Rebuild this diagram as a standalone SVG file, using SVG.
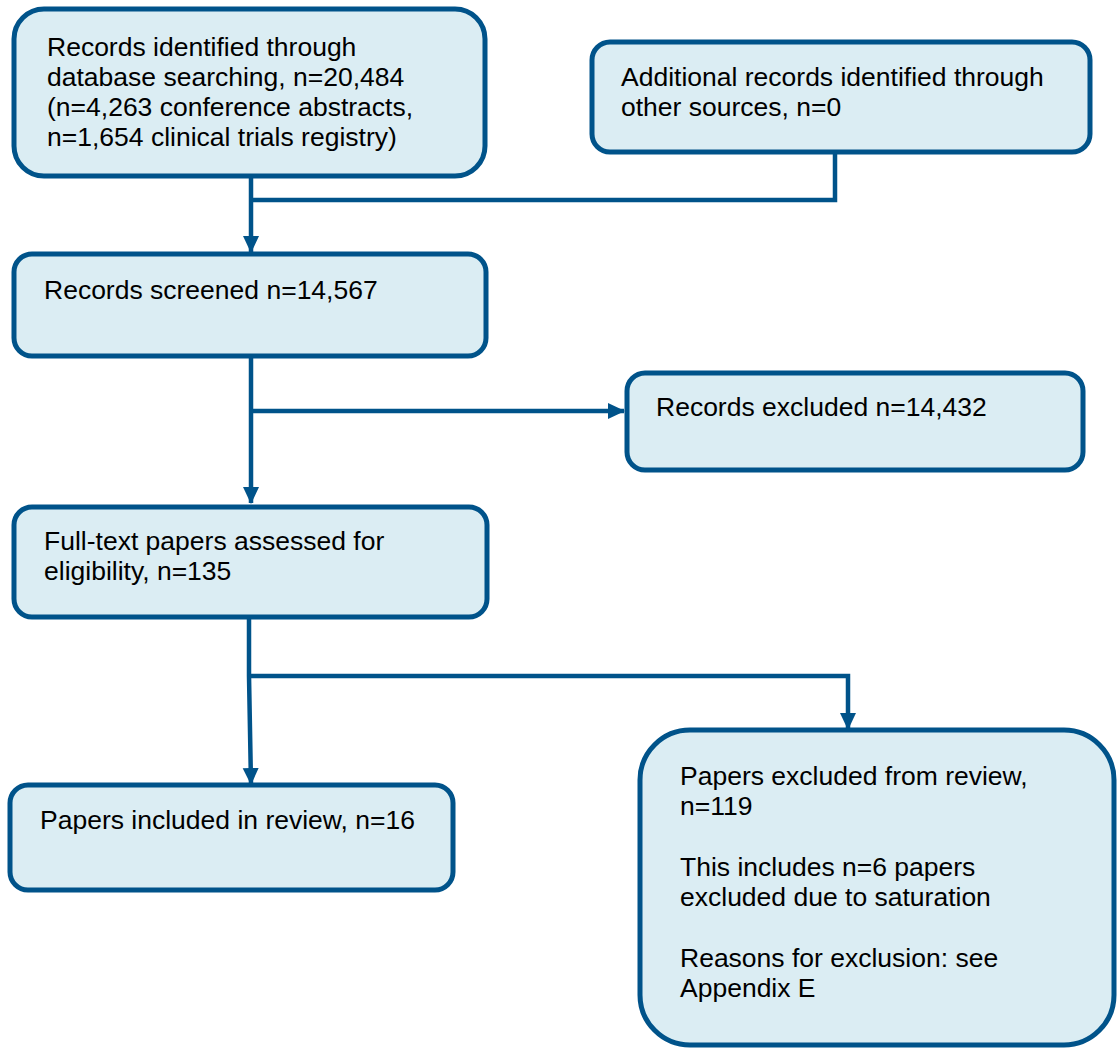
<svg xmlns="http://www.w3.org/2000/svg" width="1117" height="1048" viewBox="0 0 1117 1048">
<style>
.box{fill:#dbedf3;stroke:#00538a;stroke-width:5}
.ln{fill:none;stroke:#00538a;stroke-width:4.5}
text{font-family:"Liberation Sans",Arial,sans-serif;font-size:26.5px;fill:#000}
</style>
<defs>
<marker id="ah" markerWidth="18" markerHeight="18" refX="16" refY="9" orient="auto" markerUnits="userSpaceOnUse" viewBox="0 0 18 18">
<path d="M0,1 L17,9 L0,17 z" fill="#00538a"/>
</marker>
</defs>
<rect width="1117" height="1048" fill="#fff"/>
<g id="connectors">
<path class="ln" d="M251,176 V252" marker-end="url(#ah)"/>
<path class="ln" d="M251,200 H835 V152"/>
<path class="ln" d="M251,356 V503" marker-end="url(#ah)"/>
<path class="ln" d="M251,411 H624" marker-end="url(#ah)"/>
<path class="ln" d="M249,617 V676 L251,784" marker-end="url(#ah)"/>
<path class="ln" d="M249,676 H848 V729" marker-end="url(#ah)"/>
</g>
<g id="n1">
<rect class="box" x="14" y="9" width="471" height="167" rx="30"/>
<text x="47" y="56">Records identified through</text>
<text x="47" y="86">database searching, n=20,484</text>
<text x="47" y="116">(n=4,263 conference abstracts,</text>
<text x="47" y="146">n=1,654 clinical trials registry)</text>
</g>
<g id="n2">
<rect class="box" x="592" y="42" width="498" height="110" rx="18"/>
<text x="621" y="86">Additional records identified through</text>
<text x="621" y="116">other sources, n=0</text>
</g>
<g id="n3">
<rect class="box" x="14" y="254" width="472" height="102" rx="18"/>
<text x="44" y="299">Records screened n=14,567</text>
</g>
<g id="n4">
<rect class="box" x="627" y="373" width="456" height="97" rx="18"/>
<text x="656" y="416">Records excluded n=14,432</text>
</g>
<g id="n5">
<rect class="box" x="14" y="507" width="473" height="110" rx="18"/>
<text x="44" y="550">Full-text papers assessed for</text>
<text x="44" y="580">eligibility, n=135</text>
</g>
<g id="n6">
<rect class="box" x="10" y="785" width="443" height="105" rx="18"/>
<text x="40" y="829">Papers included in review, n=16</text>
</g>
<g id="n7">
<rect class="box" x="640" y="730" width="474" height="315" rx="50"/>
<text x="680" y="785">Papers excluded from review,</text>
<text x="680" y="815">n=119</text>
<text x="680" y="876">This includes n=6 papers</text>
<text x="680" y="906">excluded due to saturation</text>
<text x="680" y="967">Reasons for exclusion: see</text>
<text x="680" y="997">Appendix E</text>
</g>
</svg>
